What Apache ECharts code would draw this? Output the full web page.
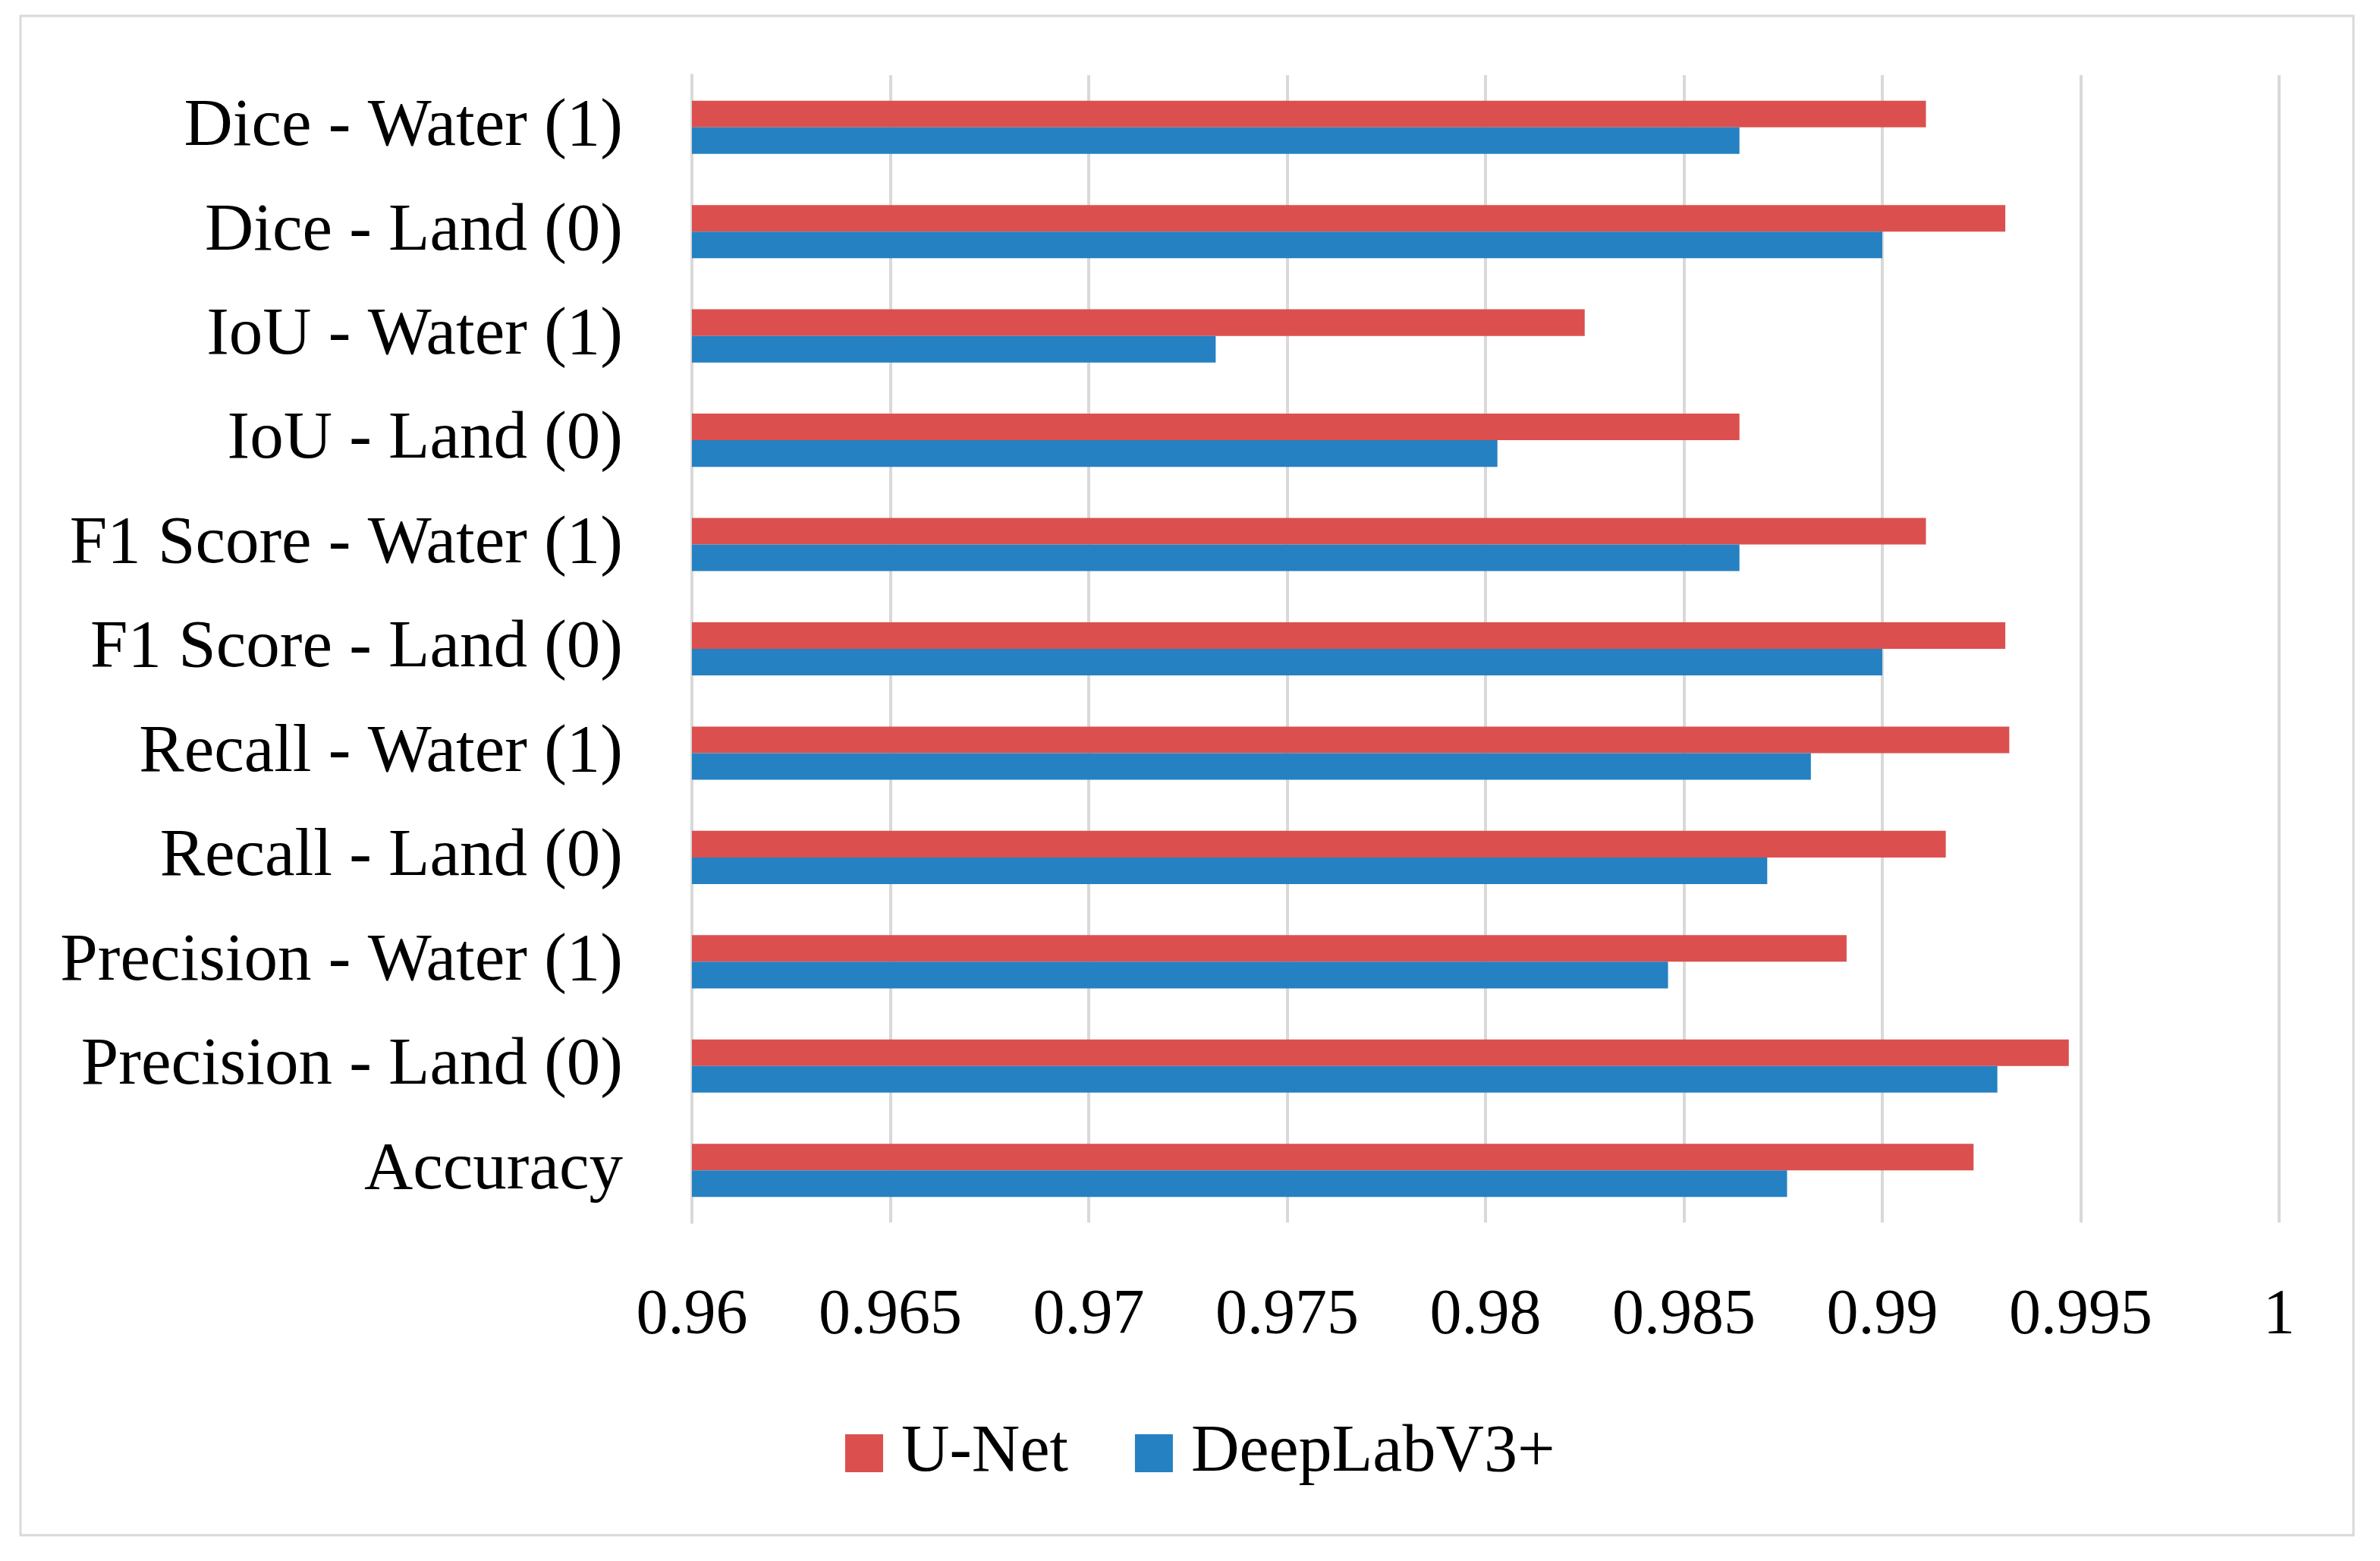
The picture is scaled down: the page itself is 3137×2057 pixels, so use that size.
<!DOCTYPE html>
<html>
<head>
<meta charset="utf-8">
<script src="https://cdn.jsdelivr.net/npm/echarts@6/dist/echarts.min.js"></script>
<style>
html,body{margin:0;padding:0;background:#fff;}
#chart{width:3137px;height:2057px;}
</style>
</head>
<body>
<div id="chart"></div>
<script>
const categories = [
  'Dice - Water (1)',
  'Dice - Land (0)',
  'IoU - Water (1)',
  'IoU - Land (0)',
  'F1 Score - Water (1)',
  'F1 Score - Land (0)',
  'Recall - Water (1)',
  'Recall - Land (0)',
  'Precision - Water (1)',
  'Precision - Land (0)',
  'Accuracy'
];
const unetValues = [0.9911, 0.9931, 0.9825, 0.9864, 0.9911, 0.9931, 0.9932, 0.9916, 0.9891, 0.9947, 0.9923];
const deeplabValues = [0.9864, 0.9900, 0.9732, 0.9803, 0.9864, 0.9900, 0.9882, 0.9871, 0.9846, 0.9929, 0.9876];
const seriesNames = ['U-Net', 'DeepLabV3+'];
const xMin = 0.96, xMax = 1, xInterval = 0.005;

const FONT = '"Liberation Serif", "Times New Roman", serif';
const chart = echarts.init(document.getElementById('chart'), null, {renderer: 'canvas'});
chart.setOption({
  backgroundColor: '#ffffff',
  animation: false,
  graphic: [{
    type: 'rect',
    shape: {x: 27, y: 21, width: 3075, height: 2002},
    style: {fill: 'none', stroke: '#D9D9D9', lineWidth: 3},
    z: -1
  }],
  grid: {left: 912, right: 133, top: 99, bottom: 446, containLabel: false},
  legend: {
    data: seriesNames,
    left: 1109,
    top: 1866,
    itemWidth: 50,
    itemHeight: 50,
    itemGap: 88,
    icon: 'rect',
    textStyle: {fontFamily: FONT, fontSize: 88, color: '#000', padding: [0, 0, 14, 19]}
  },
  xAxis: {
    type: 'value',
    min: xMin,
    max: xMax,
    interval: xInterval,
    axisLine: {show: false},
    axisTick: {show: false},
    splitLine: {show: true, lineStyle: {color: '#D9D9D9', width: 4}},
    axisLabel: {fontFamily: FONT, fontSize: 84, color: '#000', margin: 82}
  },
  yAxis: {
    type: 'category',
    data: categories,
    inverse: true,
    axisLine: {show: true, lineStyle: {color: '#D9D9D9', width: 4}},
    axisTick: {show: false},
    axisLabel: {fontFamily: FONT, fontSize: 89, color: '#000', margin: 91}
  },
  series: [
    {name: seriesNames[0], type: 'bar', data: unetValues, barGap: '0%', barCategoryGap: '49%', itemStyle: {color: '#DB504E'}},
    {name: seriesNames[1], type: 'bar', data: deeplabValues, barGap: '0%', barCategoryGap: '49%', itemStyle: {color: '#2581C1'}}
  ]
});
</script>
</body>
</html>
